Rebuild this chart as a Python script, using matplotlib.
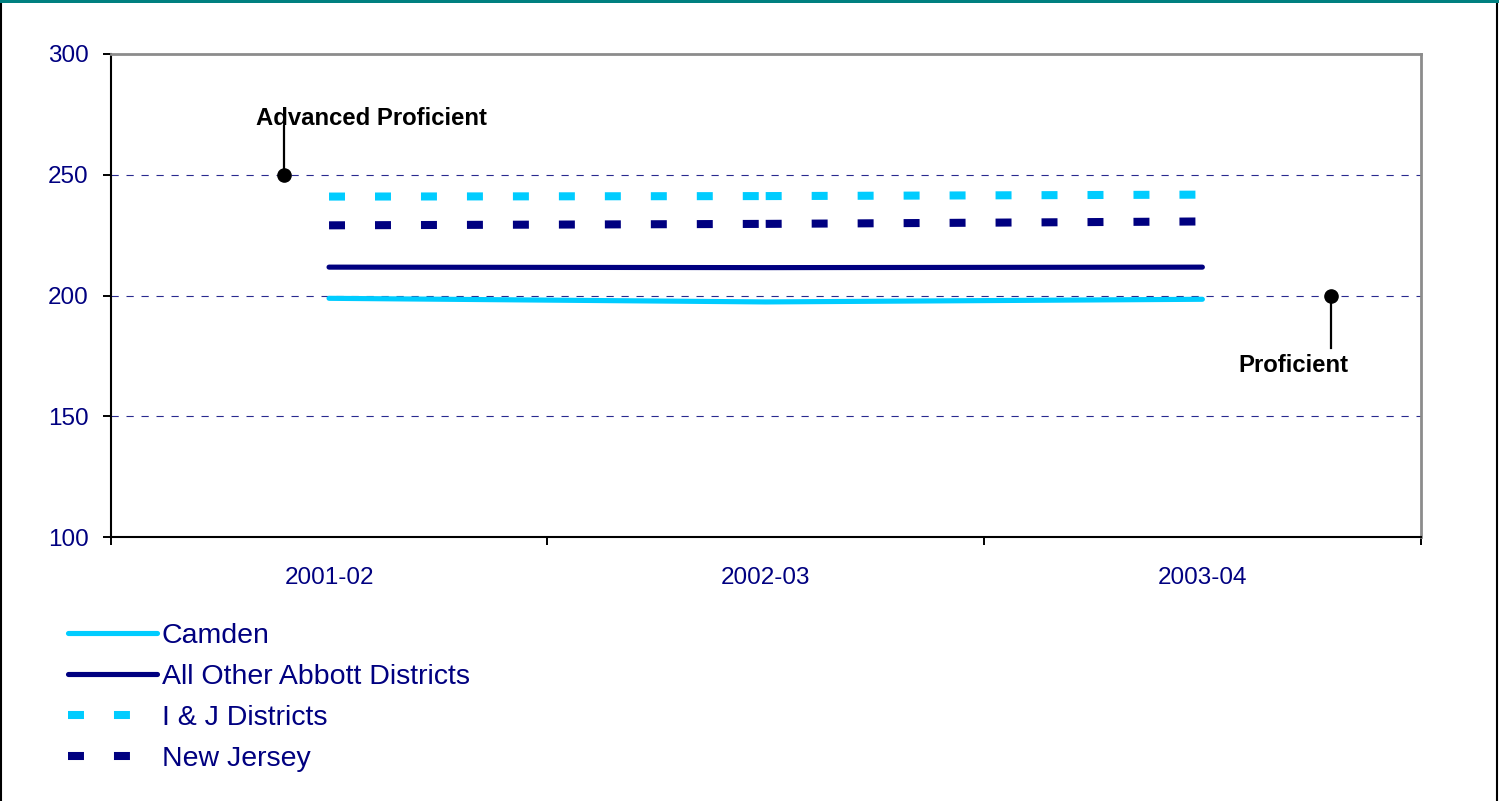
import matplotlib
matplotlib.use("Agg")
import matplotlib.pyplot as plt
from matplotlib.patches import Rectangle
from matplotlib.lines import Line2D

plt.rcParams['font.family'] = ['Liberation Sans', 'DejaVu Sans']
plt.rcParams['lines.scale_dashes'] = False

# ---- data ----
years = ["2001-02", "2002-03", "2003-04"]
camden = [198.9, 197.4, 198.5]
abbott = [211.8, 211.6, 211.8]
ij = [241.0, 241.2, 241.8]
nj = [229.1, 229.7, 230.7]
yticks = [100, 150, 200, 250, 300]
grid_levels = [150, 200, 250]
labels = ["Camden", "All Other Abbott Districts", "I & J Districts", "New Jersey"]

NAVY = "#000080"
CYAN = "#00CCFF"

fig = plt.figure(figsize=(14.99, 8.01), dpi=100)
ax = fig.add_axes([110.7 / 1499, (801 - 537.3) / 801, 1310 / 1499, 483.3 / 801])

xs = [i + 0.5 for i in range(len(years))]

# grid lines
for g in grid_levels:
    ax.axhline(g, color="#2a2a90", lw=0.8, dashes=(5.2, 5.6), zorder=1)

# solid series
ax.plot(xs, camden, color=CYAN, lw=3.7, solid_capstyle="round", zorder=3)
ax.plot(xs, abbott, color=NAVY, lw=3.7, solid_capstyle="round", zorder=3)

# dashed series (dash pattern restarts at each segment, like the original)
def dashed(vals, color):
    for i in range(len(vals) - 1):
        ax.plot(xs[i:i + 2], vals[i:i + 2], color=color, lw=5.8,
                dashes=(11.5, 21.6), dash_capstyle="butt", zorder=3)

dashed(ij, CYAN)
dashed(nj, NAVY)

# annotations
adv_pt = (0.397, 250)
ax.plot([adv_pt[0], adv_pt[0]], [adv_pt[1], 270.1], color="black", lw=1.6, zorder=4)
ax.plot([adv_pt[0]], [adv_pt[1]], "o", color="black", ms=9.5, zorder=5)
ax.text(0.597, 270.8, "Advanced Proficient", ha="center", va="baseline",
        fontsize=17.2, fontweight="bold", color="black")

prof_pt = (2.795, 200)
ax.plot([prof_pt[0], prof_pt[0]], [prof_pt[1], 178.5], color="black", lw=1.6, zorder=4)
ax.plot([prof_pt[0]], [prof_pt[1]], "o", color="black", ms=9.5, zorder=5)
ax.text(2.709, 168.2, "Proficient", ha="center", va="baseline",
        fontsize=17.2, fontweight="bold", color="black")

# axes styling
ax.set_xlim(0, 3)
ax.set_ylim(100, 300)
ax.set_yticks(yticks)
ax.set_yticklabels([str(v) for v in yticks])
ax.set_xticks([0, 1, 2, 3])
ax.set_xticklabels([])
ax.set_xticks(xs, minor=True)
ax.set_xticklabels(years, minor=True)
ax.tick_params(axis="x", which="major", length=6, width=1.4, color="black", direction="out")
ax.tick_params(axis="x", which="minor", length=0, pad=21.5, labelsize=17.5, labelcolor=NAVY)
ax.tick_params(axis="y", length=6, width=1.4, color="black", direction="out",
               pad=10, labelsize=17.5, labelcolor=NAVY)
for s in ["left", "bottom"]:
    ax.spines[s].set_color("black")
    ax.spines[s].set_linewidth(1.5)
for s in ["top", "right"]:
    ax.spines[s].set_color("#8c8c8c")
    ax.spines[s].set_linewidth(2.0)

# legend
handles = [
    Line2D([], [], color=CYAN, lw=3.7, solid_capstyle="round"),
    Line2D([], [], color=NAVY, lw=3.7, solid_capstyle="round"),
    Line2D([], [], color=CYAN, lw=5.8, dashes=(11.5, 21.6), dash_capstyle="butt"),
    Line2D([], [], color=NAVY, lw=5.8, dashes=(11.5, 21.6), dash_capstyle="butt"),
]
leg = fig.legend(handles, labels, loc="upper left",
                 bbox_to_anchor=(68 / 1499, 1 - 623 / 801),
                 frameon=False, fontsize=20.5, handlelength=3.12, handletextpad=0.18,
                 labelspacing=0.53, borderpad=0, borderaxespad=0)
for t in leg.get_texts():
    t.set_color(NAVY)

# figure border
fig.patches.append(Rectangle((0, 1 - 3 / 801), 1, 3 / 801, transform=fig.transFigure,
                             facecolor="#008080", edgecolor="none", zorder=10))
fig.add_artist(Line2D([1 / 1499, 1 / 1499], [0, 1], transform=fig.transFigure, color="black", lw=1.5))
fig.add_artist(Line2D([1496.5 / 1499, 1496.5 / 1499], [0, 1], transform=fig.transFigure, color="black", lw=1.5))

fig.savefig("out.png", dpi=100)
